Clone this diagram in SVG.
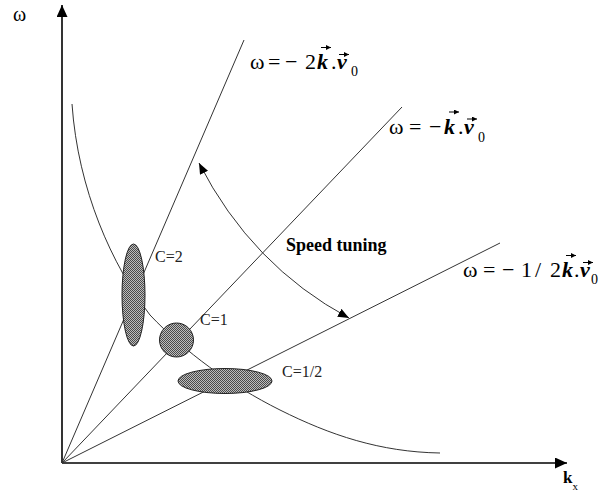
<svg xmlns="http://www.w3.org/2000/svg" width="600" height="493" viewBox="0 0 600 493">
<style>
.serif{font-family:"Liberation Serif","Times New Roman",serif;fill:#000}
.eq{font-size:22px}
.vec{font-style:italic;font-weight:bold}
.sub{font-size:14px}
.clab{font-size:16px;fill:#222}
.ray{stroke:#333;stroke-width:1;fill:none}
.axis{stroke:#000;stroke-width:1.6;fill:none}
.blob{fill:url(#checker);stroke:#222;stroke-width:1}
.acc{stroke:#000;stroke-width:1;fill:none}
</style>
<defs>
<pattern id="checker" width="2" height="2" patternUnits="userSpaceOnUse">
<rect width="2" height="2" fill="#bdbdbd"/>
<rect width="1" height="1" fill="#4a4a4a"/>
<rect x="1" y="1" width="1" height="1" fill="#4a4a4a"/>
</pattern>
<marker id="axisHead" markerWidth="12" markerHeight="11" refX="12" refY="5.5" orient="auto" markerUnits="userSpaceOnUse">
<path d="M0,0 L12,5.5 L0,11 z" fill="#000"/>
</marker>
<marker id="tuneHead" markerWidth="11" markerHeight="9" refX="11" refY="4.5" orient="auto-start-reverse" markerUnits="userSpaceOnUse">
<path d="M0,0 L11,4.5 L0,9 z" fill="#000"/>
</marker>
<marker id="vecHead" markerWidth="5" markerHeight="5" refX="5" refY="2.5" orient="auto" markerUnits="userSpaceOnUse">
<path d="M0,0 L5,2.5 L0,5 z" fill="#000"/>
</marker>
</defs>
<rect width="600" height="493" fill="#fff"/>

<g id="connectors">
<line class="axis" x1="62" y1="463" x2="62" y2="5" marker-end="url(#axisHead)"/>
<line class="axis" x1="62" y1="463" x2="567" y2="463" marker-end="url(#axisHead)"/>
<line class="ray" x1="62" y1="463" x2="244" y2="40"/>
<line class="ray" x1="62" y1="463" x2="402" y2="107"/>
<line class="ray" x1="62" y1="463" x2="500" y2="243"/>
<path class="ray" stroke="#000" d="M72,104 C78,190 112,265 150,315 C185,352 230,385 280,410 C330,435 380,452 440,453"/>
<path class="ray" stroke="#000" d="M199,163 Q251.5,265.5 349,318" marker-start="url(#tuneHead)" marker-end="url(#tuneHead)"/>
</g>

<g id="node-c2">
<ellipse class="blob" cx="133.5" cy="295" rx="11.5" ry="51"/>
<text class="serif clab" x="155" y="262">C=2</text>
</g>
<g id="node-c1">
<circle class="blob" cx="176.5" cy="340" r="17"/>
<text class="serif clab" x="200" y="325">C=1</text>
</g>
<g id="node-chalf">
<ellipse class="blob" cx="225" cy="381" rx="47" ry="12.5"/>
<text class="serif clab" x="282" y="377">C=1/2</text>
</g>

<g id="axis-labels">
<text class="serif" x="13" y="21" font-size="20" fill="#444">ω</text>
<text class="serif" x="563" y="483" font-size="17" font-weight="bold">k<tspan font-size="11" font-weight="normal" y="490">x</tspan></text>
<text class="serif" x="286" y="251" font-size="18" font-weight="bold">Speed tuning</text>
</g>

<g id="eq1">
<text class="serif eq" y="69"><tspan x="250">ω</tspan><tspan x="268">=</tspan><tspan x="285">−</tspan><tspan x="305">2</tspan><tspan x="317" class="vec">k</tspan><tspan x="331">.</tspan><tspan x="337" class="vec">v</tspan><tspan x="351" y="76" class="sub">0</tspan></text>
<path class="acc" d="M321,47.5 H331" marker-end="url(#vecHead)"/>
<path class="acc" d="M339,54.5 H349" marker-end="url(#vecHead)"/>
</g>
<g id="eq2">
<text class="serif eq" y="134"><tspan x="389">ω</tspan><tspan x="409">=</tspan><tspan x="429">−</tspan><tspan x="444" class="vec">k</tspan><tspan x="458">.</tspan><tspan x="464" class="vec">v</tspan><tspan x="478" y="142" class="sub">0</tspan></text>
<path class="acc" d="M449,112 H459" marker-end="url(#vecHead)"/>
<path class="acc" d="M467,119 H477" marker-end="url(#vecHead)"/>
</g>
<g id="eq3">
<text class="serif eq" y="277"><tspan x="463">ω</tspan><tspan x="483">=</tspan><tspan x="502">−</tspan><tspan x="521">1</tspan><tspan x="535">/</tspan><tspan x="550">2</tspan><tspan x="562" class="vec">k</tspan><tspan x="574">.</tspan><tspan x="580" class="vec">v</tspan><tspan x="591" y="284" class="sub">0</tspan></text>
<path class="acc" d="M566,255.5 H576" marker-end="url(#vecHead)"/>
<path class="acc" d="M583,262.5 H593" marker-end="url(#vecHead)"/>
</g>
</svg>
